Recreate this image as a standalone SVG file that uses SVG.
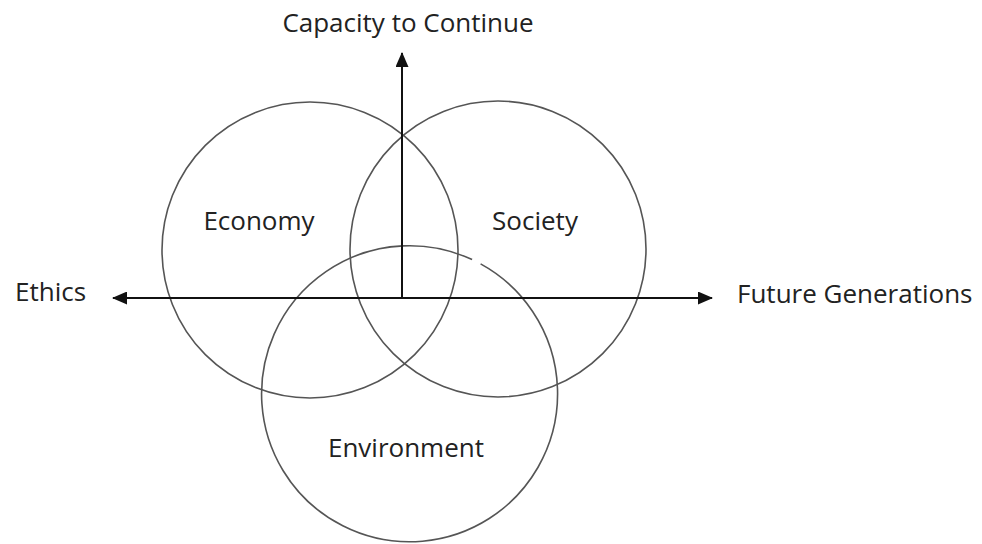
<svg xmlns="http://www.w3.org/2000/svg" width="982" height="544" viewBox="0 0 982 544">
<defs>
<style>
.circ{fill:none;stroke:#555;stroke-width:1.6}
.axis{fill:none;stroke:#111;stroke-width:2}
.lbl{font-family:"Open Sans",Lato,"Liberation Sans",sans-serif;font-size:26px;font-weight:500;fill:#222}
</style>
<marker id="ah" viewBox="0 0 15 13" refX="14" refY="6.5" markerWidth="15" markerHeight="13" markerUnits="userSpaceOnUse" orient="auto">
<path d="M0,0 L15,6.5 L0,13 Z" fill="#111"/>
</marker>
</defs>
<rect width="982" height="544" fill="#fff"/>
<g id="economy">
<circle class="circ" cx="310" cy="250" r="148"/>
<text class="lbl" x="259" y="230" text-anchor="middle">Economy</text>
</g>
<g id="society">
<circle class="circ" cx="498" cy="249" r="148"/>
<text class="lbl" x="535" y="230" text-anchor="middle">Society</text>
</g>
<g id="environment">
<path class="circ" d="M480.6 263.9 A148 148 0 1 1 472.1 259.6"/>
<text class="lbl" x="406" y="457" text-anchor="middle">Environment</text>
</g>
<g id="connectors">
<line class="axis" x1="402" y1="298" x2="402" y2="53" style="marker-end:url(#ah)"/>
<line class="axis" x1="402" y1="298" x2="712" y2="298" style="marker-end:url(#ah)"/>
<line class="axis" x1="402" y1="298" x2="113" y2="298" style="marker-end:url(#ah)"/>
</g>
<g id="capacity">
<text class="lbl" x="408" y="32" text-anchor="middle">Capacity to Continue</text>
</g>
<g id="ethics">
<text class="lbl" x="15" y="301">Ethics</text>
</g>
<g id="future">
<text class="lbl" x="737" y="303">Future Generations</text>
</g>
</svg>
